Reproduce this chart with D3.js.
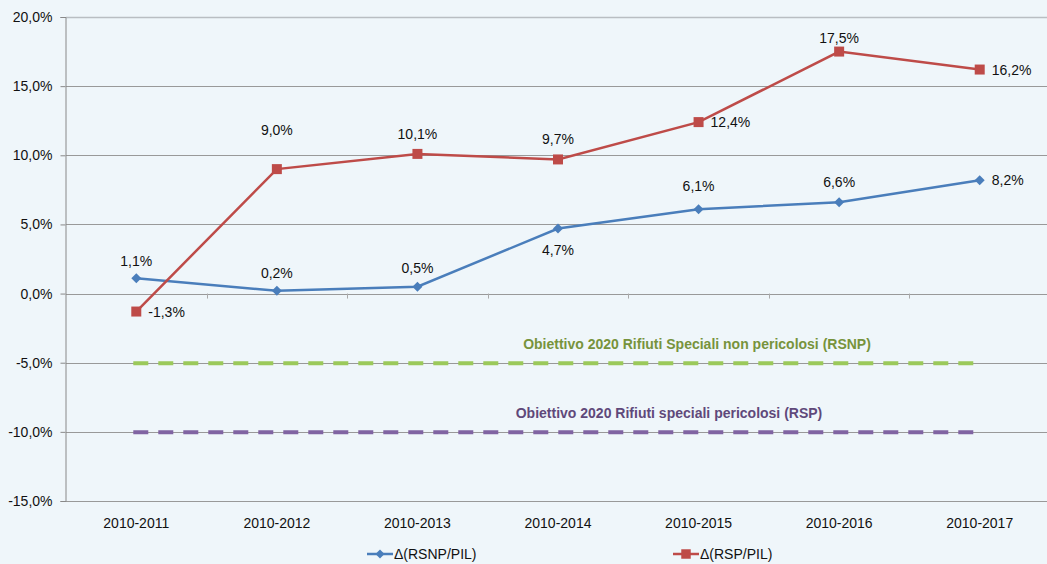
<!DOCTYPE html>
<html>
<head>
<meta charset="utf-8">
<script src="https://cdn.jsdelivr.net/npm/d3@7"></script>
<style>
  body { margin: 0; background: #eff6fa; }
  svg { display: block; font-family: "Liberation Sans", Arial, sans-serif; }
  .tick text { font-size: 14px; fill: #111; }
  .lbl { font-size: 14px; fill: #111; }
</style>
</head>
<body>
<div id="chart"></div>
<script>
var periods = ["2010-2011", "2010-2012", "2010-2013", "2010-2014", "2010-2015", "2010-2016", "2010-2017"];
var rsnp = [1.1, 0.2, 0.5, 4.7, 6.1, 6.6, 8.2];
var rsp = [-1.3, 9.0, 10.1, 9.7, 12.4, 17.5, 16.2];
// label placement: "r" = right of the point, otherwise vertical shift in px
var rsnpLbl = [-17, -18, -19, 21, -23, -20, "r"];
var rspLbl = ["r", -39, -20, -20, "r", -14, "r"];
var yTicks = [-15, -10, -5, 0, 5, 10, 15, 20];
var targets = [
  {name: "Obiettivo 2020 Rifiuti Speciali non pericolosi (RSNP)", value: -5},
  {name: "Obiettivo 2020 Rifiuti speciali pericolosi (RSP)", value: -10}
];

var _width = 1047, _height = 564;
var margin = {left: 66, right: -3, top: 17, bottom: 63};

var svg = d3.select("#chart").append("svg")
    .attr("width", _width)
    .attr("height", _height);

svg.append("rect").attr("width", _width).attr("height", _height).attr("fill", "#eff6fa");

var x = d3.scaleBand().domain(periods)
    .range([margin.left, _width - margin.right]);
var y = d3.scaleLinear().domain([-15, 20])
    .range([_height - margin.bottom, margin.top]);

var fmt = function(v) { return v.toFixed(1).replace(".", ",") + "%"; };
var cx = function(p) { return x(p) + x.bandwidth() / 2; };

// gridlines
svg.append("g").selectAll("line")
    .data(yTicks)
  .enter().append("line")
    .attr("x1", margin.left).attr("x2", _width)
    .attr("y1", function(d) { return Math.round(y(d)) + 0.5; })
    .attr("y2", function(d) { return Math.round(y(d)) + 0.5; })
    .attr("stroke", function(d) { return d == 20 ? "#b9bec2" : "#999"; })
    .attr("stroke-width", function(d) { return d == 20 ? 1.5 : 1; });

// y axis
var yAxis = svg.append("g")
    .attr("transform", "translate(" + (margin.left - 0.5) + ",0)")
    .call(d3.axisLeft(y).tickValues(yTicks).tickSize(5).tickPadding(8).tickFormat(fmt));
yAxis.select(".domain").attr("stroke", "#888");
yAxis.selectAll(".tick line").attr("stroke", "#888");

// x axis ticks at zero line, between categories
var bounds = periods.map(function(p) { return x(p); }).slice(1);
svg.append("g").selectAll("line")
    .data(bounds)
  .enter().append("line")
    .attr("x1", function(d) { return Math.round(d) + 0.5; })
    .attr("x2", function(d) { return Math.round(d) + 0.5; })
    .attr("y1", y(0)).attr("y2", y(0) + 5)
    .attr("stroke", "#aaa");

// category labels
svg.append("g").selectAll("text")
    .data(periods)
  .enter().append("text")
    .attr("class", "lbl")
    .attr("x", cx)
    .attr("y", _height - margin.bottom + 27)
    .attr("text-anchor", "middle")
    .text(function(d) { return d; });

// target lines
var tColors = ["#9bc95a", "#8064a2"];
var tText = ["#77933c", "#5f497a"];
targets.forEach(function(t, i) {
  svg.append("line")
    .attr("x1", cx(periods[0]) - 3).attr("x2", cx(periods[periods.length - 1]) + 3)
    .attr("y1", y(t.value) + 0.5).attr("y2", y(t.value) + 0.5)
    .attr("stroke", tColors[i]).attr("stroke-width", 4)
    .attr("stroke-dasharray", "15,10");
  svg.append("text")
    .attr("x", i == 0 ? 697 : 669)
    .attr("y", y(t.value) - 14)
    .attr("text-anchor", "middle")
    .attr("font-size", 14).attr("font-weight", "bold")
    .attr("fill", tText[i])
    .text(t.name);
});

var line = d3.line()
    .x(function(d, i) { return cx(periods[i]); })
    .y(function(d) { return y(d); });

function marker(shape, s) {
  return shape == "square" ? d3.symbol().type(d3.symbolSquare).size(s)() : d3.symbol().type(d3.symbolSquare).size(s)();
}

function drawSeries(vals, color, shape, lbl) {
  svg.append("path").datum(vals)
    .attr("d", line).attr("fill", "none")
    .attr("stroke", color).attr("stroke-width", 2.5);
  svg.append("g").selectAll("path")
      .data(vals)
    .enter().append("path")
      .attr("d", d3.symbol().type(d3.symbolSquare).size(shape == "square" ? 100 : 50))
      .attr("transform", function(d, i) {
        return "translate(" + cx(periods[i]) + "," + y(d) + ")" + (shape == "diamond" ? " rotate(45)" : "");
      })
      .attr("fill", color);
  svg.append("g").selectAll("text")
      .data(vals)
    .enter().append("text")
      .attr("class", "lbl")
      .attr("x", function(d, i) { return lbl[i] == "r" ? cx(periods[i]) + 12 : cx(periods[i]); })
      .attr("y", function(d, i) { return y(d) + (lbl[i] == "r" ? 0 : lbl[i]) + 5; })
      .attr("text-anchor", function(d, i) { return lbl[i] == "r" ? "start" : "middle"; })
      .text(fmt);
}

drawSeries(rsnp, "#4a7ebb", "diamond", rsnpLbl);
drawSeries(rsp, "#be4b48", "square", rspLbl);

// legend
var legend = [
  {name: "\u0394(RSNP/PIL)", color: "#4a7ebb", shape: "diamond", x: 367},
  {name: "\u0394(RSP/PIL)", color: "#be4b48", shape: "square", x: 673}
];
legend.forEach(function(l) {
  var g = svg.append("g").attr("transform", "translate(" + l.x + ",554)");
  g.append("line").attr("x1", 0).attr("x2", 26).attr("stroke", l.color).attr("stroke-width", 2.5);
  g.append("path").attr("transform", "translate(13,0)" + (l.shape == "diamond" ? " rotate(45)" : ""))
    .attr("d", d3.symbol().type(d3.symbolSquare).size(l.shape == "square" ? 90 : 40))
    .attr("fill", l.color);
  g.append("text").attr("class", "lbl").attr("x", 27).attr("y", 5).text(l.name);
});
</script>
</body>
</html>
